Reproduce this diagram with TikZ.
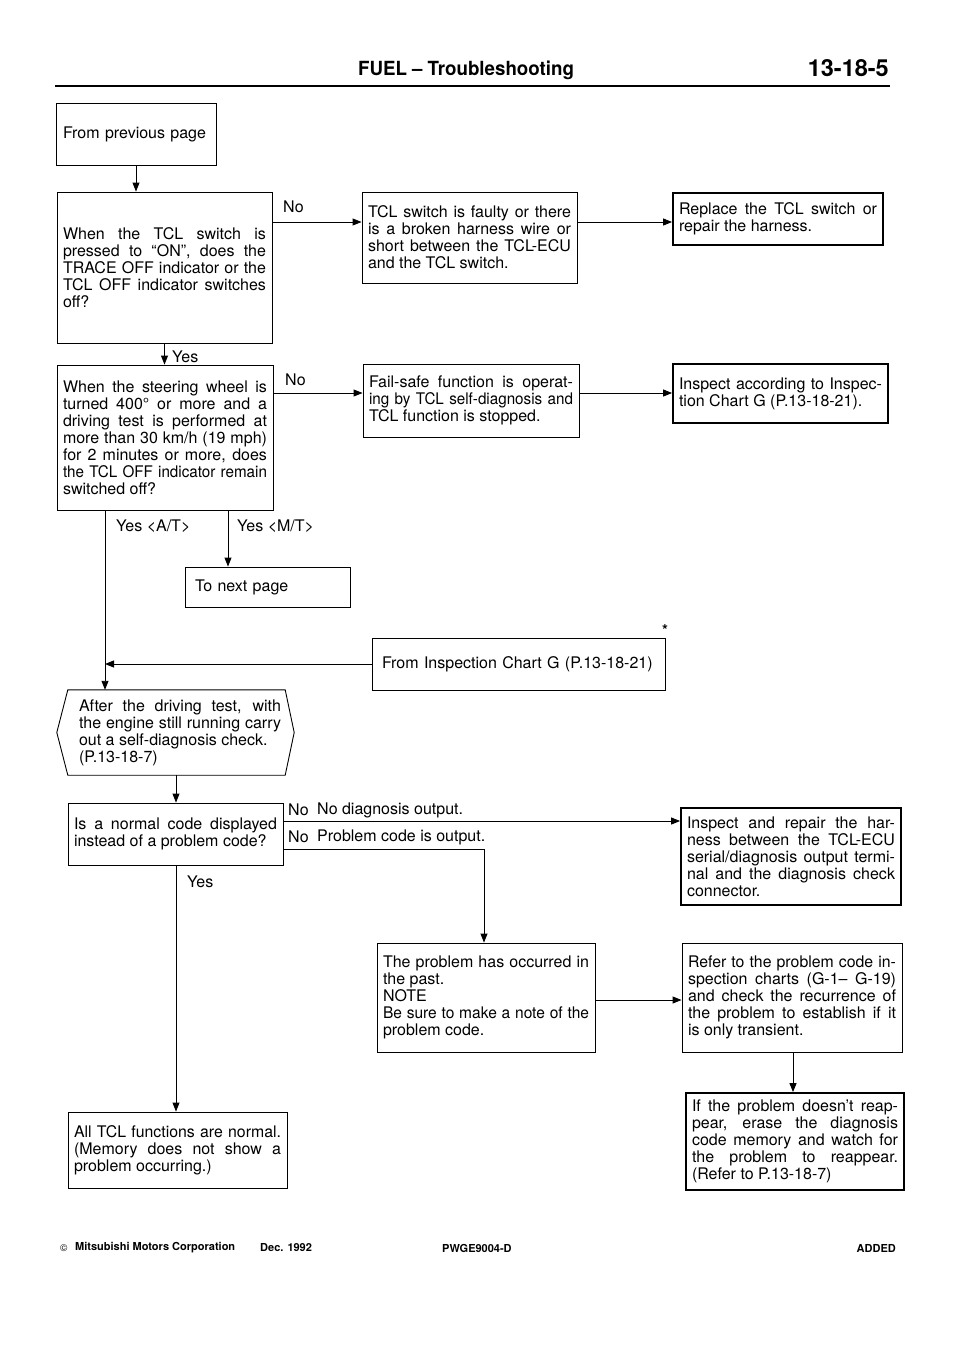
\documentclass[tikz,border=0pt]{standalone}
\usepackage{fontspec}
\setmainfont{TeX Gyre Heros}
\newfontfamily\headfam[FakeStretch=0.96,Ligatures=TeX]{TeX Gyre Heros}
\usetikzlibrary{arrows.meta}
\newcommand\txtf{\fontsize{16}{17}\selectfont\hyphenpenalty=10000 \exhyphenpenalty=10000 \tolerance=10000 }
\newcommand\footf{\fontsize{11}{13}\selectfont\bfseries}
\newcommand\sqz[2]{{\addfontfeatures{FakeStretch=#1}#2}}
\begin{document}
\begin{tikzpicture}[x=1pt,y=-1pt]
\tikzset{
 box/.style={draw, line width=0.9pt, inner xsep=6pt, inner ysep=0pt, align=justify, font=\txtf},
 tbox/.style={box, line width=1.8pt},
 arr/.style={line width=0.9pt, -{Triangle[length=9pt,width=7pt]}},
 con/.style={line width=0.9pt},
 lbl/.style={font=\txtf, inner sep=0pt},
}
\useasboundingbox (0,0) rectangle (960,1358);
% header
\node[anchor=base, font=\headfam\fontsize{19.5}{22}\selectfont\bfseries, inner sep=0pt] (title) at (466,75) {FUEL – Troubleshooting};
\node[anchor=base east, font=\fontsize{23.5}{26}\selectfont\bfseries, inner sep=0pt] (pg) at (889,76) {13-18-5};
\draw[line width=2.6pt] (55,86) -- (890,86);
% boxes
\node[box, inner xsep=7pt, text width=146pt, minimum height=62pt, align=left] (prev) at (136,134) {\mbox{From previous page}};
\node[box, text width=203pt, minimum height=151pt] (b1) at (164.5,267.5) {When the TCL switch is\linebreak pressed to “ON”, does the\linebreak TRACE OFF indicator or the\linebreak TCL OFF indicator switches\linebreak off?};
\node[box, text width=203pt, minimum height=91pt] (b2) at (469.5,237.5) {TCL switch is faulty or there\linebreak is a broken harness wire or\linebreak short between the TCL-ECU\linebreak and the TCL switch.};
\node[tbox, text width=198pt, minimum height=52pt] (b3) at (778,219) {Replace the TCL switch or\linebreak repair the harness.};
\node[box, text width=204pt, minimum height=145pt] (b4) at (165,437.5) {When the steering wheel is\linebreak turned 400° or more and a\linebreak driving test is performed at\linebreak more than 30 km/h (19 mph)\linebreak for 2 minutes or more, does\linebreak \sqz{0.95}{the TCL OFF indicator remain}\linebreak switched off?};
\node[box, text width=204pt, minimum height=73pt] (b5) at (471,400.5) {Fail-safe function is operat-\linebreak \sqz{0.95}{ing by TCL self-diagnosis and}\linebreak TCL function is stopped.};
\node[tbox, text width=203pt, minimum height=59pt] (b6) at (780.5,393.5) {Inspect according to Inspec-\linebreak tion Chart G (P.13-18-21).};
\node[box, inner xsep=10pt, text width=145pt, minimum height=40pt, align=left] (next) at (267.5,587) {To next page};
\node[box, inner xsep=10pt, text width=273pt, minimum height=52pt, align=left] (fic) at (518.5,664) {From Inspection Chart G (P.13-18-21)};
\node[lbl, text width=202pt, minimum height=85pt, align=justify] (hex) at (180,732.5) {After the driving test, with\linebreak the engine still running carry\linebreak out a self-diagnosis check.\\(P.13-18-7)};
\draw[con] ([xshift=-11pt]hex.north west) -- ([xshift=4pt]hex.north east) -- ([xshift=13pt]hex.east) -- ([xshift=4pt]hex.south east) -- ([xshift=-11pt]hex.south west) -- ([xshift=-22pt]hex.west) -- cycle;
\node[box, text width=203pt, minimum height=62pt] (b7) at (175.5,834) {Is a normal code displayed\linebreak instead of a problem code?};
\node[tbox, text width=208pt, minimum height=97pt] (b9) at (791,856.5) {Inspect and repair the har-\linebreak ness between the TCL-ECU\linebreak serial/diagnosis output termi-\linebreak nal and the diagnosis check\linebreak connector.};
\node[box, text width=206pt, minimum height=109pt] (b8) at (486,997.5) {The problem has occurred in\linebreak the past.\\NOTE\\\sqz{0.97}{Be sure to make a note of the}\linebreak problem code.};
\node[box, text width=208pt, minimum height=109pt] (b10) at (792,997.5) {\sqz{0.99}{Refer to the problem code in-}\linebreak spection charts (G-1– G-19)\linebreak and check the recurrence of\linebreak the problem to establish if it\linebreak is only transient.};
\node[tbox, text width=206pt, minimum height=97pt] (b11) at (795,1141.5) {If the problem doesn’t reap-\linebreak pear, erase the diagnosis\linebreak code memory and watch for\linebreak the problem to reappear.\linebreak (Refer to P.13-18-7)};
\node[box, text width=207pt, minimum height=76pt] (all) at (177.5,1150) {\sqz{0.99}{All TCL functions are normal.}\linebreak (Memory does not show a\linebreak problem occurring.)};
% connectors
\coordinate (r1) at (0,222);
\coordinate (r2) at (0,393);
\coordinate (at) at (105,664);
\coordinate (mt) at (228,0);
\coordinate (r3) at (0,821);
\coordinate (c2) at (484,849);
\coordinate (c3) at (176,0);
\coordinate (r4) at (0,1000);
\coordinate (c4) at (793,0);
\draw[arr] (prev.south) -- (prev.south |- b1.north);
\draw[arr] (b1.east |- r1) -- (b2.west |- r1);
\draw[arr] (b2.east |- r1) -- (b3.west |- r1);
\draw[arr] (b1.south) -- (b1.south |- b4.north);
\draw[arr] (b4.east |- r2) -- (b5.west |- r2);
\draw[arr] (b5.east |- r2) -- (b6.west |- r2);
\draw[arr] (b4.south -| at) -- (hex.north -| at);
\draw[arr] (b4.south -| mt) -- (next.north -| mt);
\draw[arr] (fic.west) -- (at);
\draw[arr] (hex.south -| c3) -- (b7.north -| c3);
\draw[arr] (b7.east |- r3) -- (b9.west |- r3);
\draw[arr] (b7.east |- c2) -- (c2) -- (c2 |- b8.north);
\draw[arr] (b7.south -| c3) -- (all.north -| c3);
\draw[arr] (b8.east |- r4) -- (b10.west |- r4);
\draw[arr] (b10.south -| c4) -- (b11.north -| c4);
% labels
\node[lbl, anchor=west] (no1) at (283,207) {No};
\node[lbl, anchor=west] (no2) at (285,380) {No};
\node[lbl, anchor=west] (yes1) at (172,357) {Yes};
\node[lbl, anchor=west] (yat) at (116,526) {Yes <A/T>};
\node[lbl, anchor=west] (ymt) at (237,526) {Yes <M/T>};
\node[lbl, font=\fontsize{15}{15}\selectfont\bfseries] (star) at (665,630) {*};
\node[lbl, anchor=west] (no3) at (288,810) {No};
\node[lbl, anchor=west] (nd) at (317,810) {No diagnosis output.};
\node[lbl, anchor=west] (no4) at (288,837) {No};
\node[lbl, anchor=west] (pc) at (317,837) {Problem code is output.};
\node[lbl, anchor=west] (yes2) at (187,882) {Yes};
% footer
\node[anchor=west, inner sep=0pt, font=\fontsize{10}{10}\selectfont] (copy) at (60,1248) {©};
\node[anchor=west, inner sep=0pt, font=\footf] (corp) at (75,1248) {Mitsubishi Motors Corporation};
\node[anchor=west, inner sep=0pt, font=\footf] (date) at (260,1248) {Dec. 1992};
\node[anchor=west, inner sep=0pt, font=\footf] (code) at (442,1248) {PWGE9004-D};
\node[anchor=east, inner sep=0pt, font=\footf] (added) at (896,1248) {ADDED};
\end{tikzpicture}
\end{document}
